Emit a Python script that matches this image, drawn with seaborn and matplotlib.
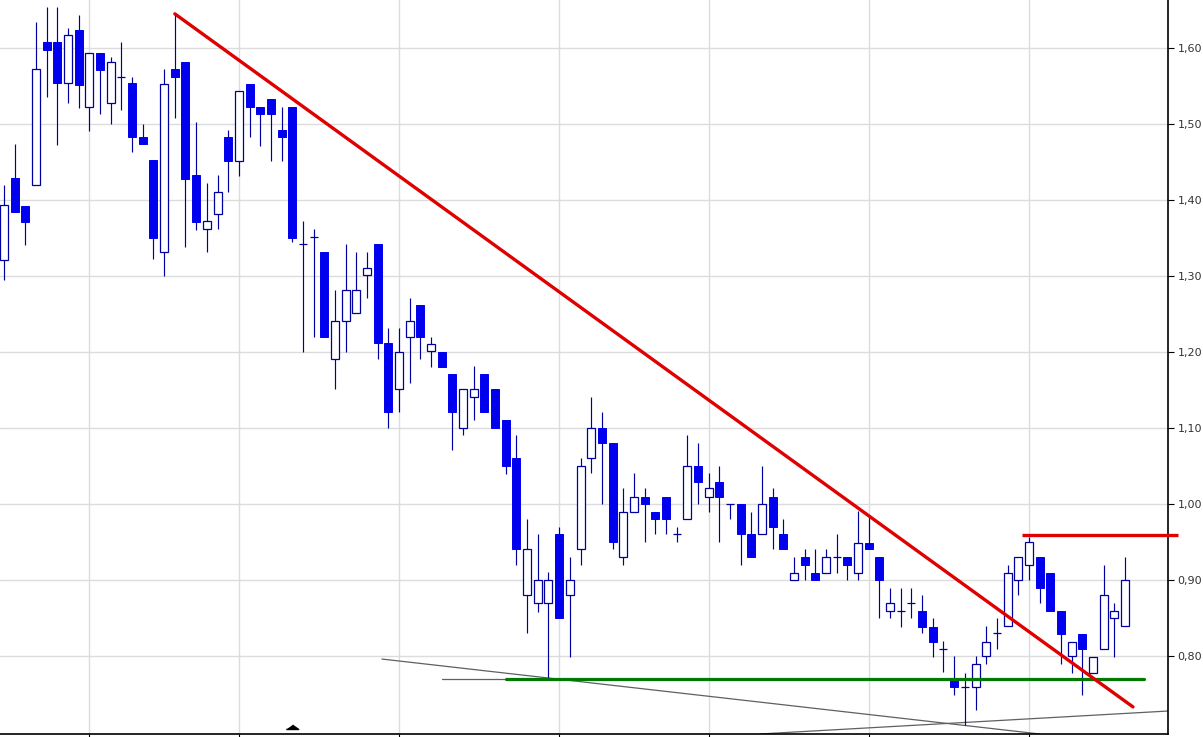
import numpy as np
import pandas as pd
import matplotlib
matplotlib.use("Agg")
import matplotlib.pyplot as plt
from matplotlib.ticker import FuncFormatter
import seaborn as sns

# ---- data ----
opens = [1.321, 1.429, 1.392, 1.420, 1.608, 1.608, 1.554, 1.624, 1.522, 1.593,
         1.528, 1.562, 1.554, 1.483, 1.453, 1.332, 1.572, 1.582, 1.433, 1.362,
         1.382, 1.483, 1.451, 1.553, 1.522, 1.533, 1.492, 1.522, 1.342, 1.351,
         1.332, 1.191, 1.241, 1.251, 1.301, 1.342, 1.212, 1.151, 1.220, 1.262,
         1.201, 1.200, 1.171, 1.100, 1.141, 1.171, 1.151, 1.111, 1.061, 0.880,
         0.870, 0.870, 0.961, 0.880, 0.941, 1.061, 1.100, 1.080, 0.930, 0.989,
         1.009, 0.989, 1.009, 0.961, 0.980, 1.050, 1.009, 1.029, 1.000, 1.000,
         0.961, 0.961, 1.009, 0.961, 0.900, 0.930, 0.909, 0.909, 0.930, 0.930,
         0.909, 0.949, 0.930, 0.859, 0.859, 0.870, 0.859, 0.838, 0.809, 0.768,
         0.759, 0.759, 0.800, 0.830, 0.839, 0.900, 0.920, 0.930, 0.909, 0.859,
         0.800, 0.829, 0.778, 0.809, 0.850, 0.839]
highs = [1.420, 1.474, 1.392, 1.634, 1.654, 1.654, 1.626, 1.643, 1.593, 1.593,
         1.588, 1.608, 1.562, 1.500, 1.453, 1.572, 1.646, 1.582, 1.503, 1.422,
         1.433, 1.492, 1.543, 1.553, 1.522, 1.533, 1.522, 1.522, 1.372, 1.362,
         1.332, 1.282, 1.342, 1.332, 1.332, 1.342, 1.232, 1.232, 1.271, 1.262,
         1.220, 1.200, 1.171, 1.151, 1.182, 1.171, 1.151, 1.111, 1.091, 0.980,
         0.961, 0.911, 0.970, 0.930, 1.061, 1.141, 1.121, 1.080, 1.021, 1.041,
         1.021, 0.989, 1.009, 0.970, 1.091, 1.080, 1.041, 1.050, 1.000, 1.000,
         0.989, 1.050, 1.021, 0.980, 0.930, 0.941, 0.941, 0.941, 0.961, 0.930,
         0.991, 0.983, 0.930, 0.889, 0.889, 0.889, 0.880, 0.850, 0.820, 0.800,
         0.778, 0.800, 0.839, 0.850, 0.920, 0.930, 0.957, 0.930, 0.909, 0.859,
         0.818, 0.829, 0.799, 0.920, 0.870, 0.930]
lows = [1.295, 1.384, 1.341, 1.420, 1.536, 1.472, 1.528, 1.521, 1.491, 1.513,
        1.500, 1.518, 1.463, 1.474, 1.322, 1.300, 1.508, 1.338, 1.361, 1.332,
        1.362, 1.411, 1.432, 1.483, 1.471, 1.451, 1.451, 1.345, 1.200, 1.220,
        1.220, 1.151, 1.200, 1.251, 1.271, 1.191, 1.100, 1.121, 1.159, 1.191,
        1.180, 1.180, 1.071, 1.091, 1.111, 1.121, 1.100, 1.039, 0.920, 0.830,
        0.858, 0.771, 0.850, 0.799, 0.920, 1.041, 1.000, 0.941, 0.920, 0.989,
        0.950, 0.961, 0.961, 0.950, 0.980, 1.000, 0.989, 0.950, 0.980, 0.920,
        0.930, 0.961, 0.941, 0.941, 0.900, 0.900, 0.900, 0.909, 0.909, 0.900,
        0.900, 0.941, 0.850, 0.850, 0.838, 0.850, 0.830, 0.799, 0.779, 0.749,
        0.709, 0.729, 0.789, 0.809, 0.839, 0.880, 0.900, 0.870, 0.859, 0.789,
        0.778, 0.749, 0.778, 0.809, 0.799, 0.839]
closes = [1.393, 1.384, 1.371, 1.572, 1.597, 1.554, 1.617, 1.551, 1.593, 1.571,
          1.582, 1.562, 1.483, 1.474, 1.350, 1.553, 1.562, 1.428, 1.371, 1.372,
          1.411, 1.451, 1.543, 1.522, 1.513, 1.513, 1.483, 1.350, 1.342, 1.351,
          1.220, 1.241, 1.282, 1.282, 1.311, 1.212, 1.121, 1.200, 1.241, 1.220,
          1.211, 1.180, 1.121, 1.151, 1.151, 1.121, 1.100, 1.050, 0.941, 0.941,
          0.900, 0.900, 0.850, 0.900, 1.050, 1.100, 1.080, 0.950, 0.989, 1.009,
          1.000, 0.980, 0.980, 0.961, 1.050, 1.029, 1.021, 1.009, 1.000, 0.961,
          0.930, 1.000, 0.970, 0.941, 0.909, 0.920, 0.900, 0.930, 0.930, 0.920,
          0.949, 0.941, 0.900, 0.870, 0.859, 0.870, 0.838, 0.818, 0.809, 0.759,
          0.759, 0.789, 0.818, 0.830, 0.909, 0.930, 0.950, 0.889, 0.859, 0.829,
          0.818, 0.809, 0.799, 0.880, 0.859, 0.900]

month_starts = [8, 22, 37, 52, 66, 81, 96]
y_ticks = [0.80, 0.90, 1.00, 1.10, 1.20, 1.30, 1.40, 1.50, 1.60]

# drawn annotation lines (index, price)
resistance_x = [16.0, 105.75]
resistance_y = [1.645, 0.733]
top_level_x = [95.4, 110.0]
top_level_y = [0.959, 0.959]
support_x = [47.0, 106.8]
support_y = [0.770, 0.770]
support_ext_x = [41.0, 47.0]
support_ext_y = [0.770, 0.770]
fan1_x = [35.4, 97.0]
fan1_y = [0.796, 0.6974]
fan2_x = [70.8, 109.03]
fan2_y = [0.6974, 0.7276]
marker_idx = 27

df = pd.DataFrame({"open": opens, "high": highs, "low": lows, "close": closes})
df["idx"] = np.arange(len(df))

# ---- style ----
sns.set_theme(style="white")
plt.rcParams["font.family"] = ["DejaVu Sans"]

fig = plt.figure(figsize=(12.03, 7.37), dpi=100)
ax = fig.add_axes([0.0, 0.0041, 1168 / 1203, 1 - 0.0041])

FILL = "#0000ee"
EDGE = "#0000a0"
W = 0.75

# wicks
ax.vlines(df["idx"], df["low"], df["high"], color=EDGE, lw=0.85, zorder=3)

up = df[df["close"] >= df["open"]]
dn = df[df["close"] < df["open"]]
ax.bar(up["idx"], up["close"] - up["open"], bottom=up["open"], width=W,
       color="white", edgecolor=EDGE, linewidth=0.9, zorder=4)
ax.bar(dn["idx"], dn["open"] - dn["close"], bottom=dn["close"], width=W,
       color=FILL, edgecolor=FILL, linewidth=0.7, zorder=4)

# annotation lines
sns.lineplot(x=fan1_x, y=fan1_y, ax=ax, color="#606060", lw=0.9, zorder=2)
sns.lineplot(x=fan2_x, y=fan2_y, ax=ax, color="#606060", lw=0.9, zorder=2)
sns.lineplot(x=support_ext_x, y=support_ext_y, ax=ax, color="#606060", lw=0.9, zorder=2)
sns.lineplot(x=support_x, y=support_y, ax=ax, color="#007a00", lw=2.3, zorder=5)
sns.lineplot(x=resistance_x, y=resistance_y, ax=ax, color="#e00000", lw=2.4, zorder=6)
ax.plot(top_level_x, top_level_y, color="#e00000", lw=2.4, zorder=6,
        clip_on=False, solid_capstyle="butt")

# marker on the bottom axis
ax.plot([marker_idx], [0.7035], marker=[(-1, 0), (1, 0), (0, 0.7)],
        markersize=9, color="black", linestyle="none", zorder=7, clip_on=False)

# axes
ax.set_xlim(-0.375, 109.03)
ax.set_ylim(0.6974, 1.6632)
ax.set_xticks(month_starts)
ax.set_xticklabels([])
ax.set_yticks(y_ticks)
ax.yaxis.tick_right()
ax.yaxis.set_major_formatter(FuncFormatter(lambda v, p: f"{v:.2f}".replace(".", ",")))
ax.tick_params(axis="y", which="major", direction="out", length=4, width=0.8,
               colors="black", labelsize=8, labelcolor="#333333", pad=3, right=True, left=False)
ax.tick_params(axis="x", which="major", direction="out", length=4, width=0.8,
               colors="black", bottom=True)
ax.grid(True, color="#dcdcdc", lw=1.0)
ax.set_axisbelow(True)
for s in ["left", "top"]:
    ax.spines[s].set_visible(False)
for s in ["right", "bottom"]:
    ax.spines[s].set_visible(True)
    ax.spines[s].set_color("black")
    ax.spines[s].set_linewidth(1.2)
ax.set_xlabel("")
ax.set_ylabel("")
if ax.get_legend() is not None:
    ax.get_legend().remove()

fig.savefig("out.png", dpi=100, facecolor="white")
